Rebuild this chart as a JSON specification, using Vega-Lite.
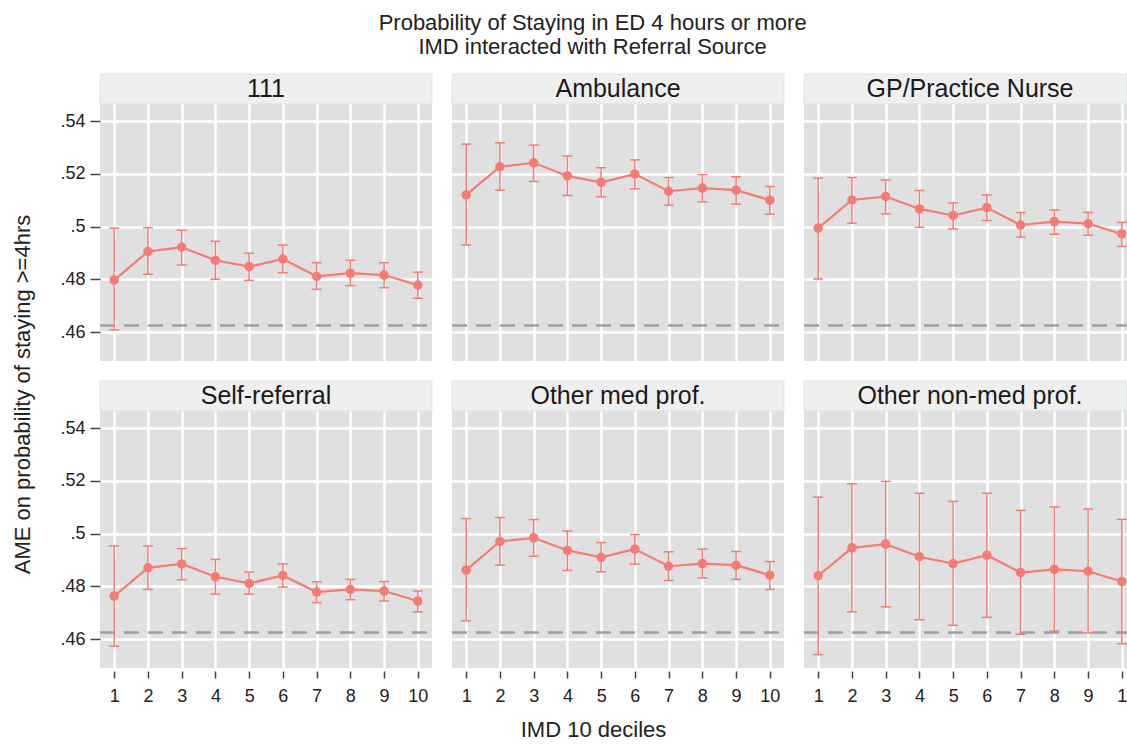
{
  "$schema": "https://vega.github.io/schema/vega-lite/v6.json",
  "padding": {"left": 10, "top": 11, "right": 0, "bottom": 0},
  "title": {
    "text": ["Probability of Staying in ED 4 hours or more", "IMD interacted with Referral Source"],
    "fontSize": 22, "font": "Liberation Sans", "fontWeight": "normal", "lineHeight": 24,
    "anchor": "middle", "frame": "bounds", "dx": 23, "offset": 15, "color": "#222222"
  },
  "config": {
    "view": {"fill": "#e0e0e0", "stroke": null},
    "font": "Liberation Sans",
    "axis": {
      "domain": false, "gridColor": "#ffffff", "gridWidth": 2.5,
      "tickColor": "#444444", "tickWidth": 1.5,
      "labelFontSize": 18, "labelColor": "#222222", "labelFont": "Liberation Sans",
      "titleFont": "Liberation Sans", "titleFontSize": 22, "titleFontWeight": "normal", "titleColor": "#222222"
    },
    "axisX": {"offset": 3, "tickSize": 7, "labelPadding": 9},
    "axisY": {"offset": 0, "tickSize": 10, "labelPadding": 5}
  },
  "datasets": {
    "ame": [
      {"source": "111", "decile": 1, "ame": 0.4797, "lo": 0.4608, "hi": 0.4994},
      {"source": "111", "decile": 2, "ame": 0.4905, "lo": 0.4819, "hi": 0.4996},
      {"source": "111", "decile": 3, "ame": 0.4922, "lo": 0.4854, "hi": 0.4986},
      {"source": "111", "decile": 4, "ame": 0.4872, "lo": 0.4800, "hi": 0.4944},
      {"source": "111", "decile": 5, "ame": 0.4848, "lo": 0.4796, "hi": 0.4899},
      {"source": "111", "decile": 6, "ame": 0.4877, "lo": 0.4825, "hi": 0.4930},
      {"source": "111", "decile": 7, "ame": 0.4811, "lo": 0.4762, "hi": 0.4863},
      {"source": "111", "decile": 8, "ame": 0.4823, "lo": 0.4776, "hi": 0.4872},
      {"source": "111", "decile": 9, "ame": 0.4816, "lo": 0.4768, "hi": 0.4863},
      {"source": "111", "decile": 10, "ame": 0.4778, "lo": 0.4728, "hi": 0.4827},
      {"source": "Ambulance", "decile": 1, "ame": 0.5120, "lo": 0.4930, "hi": 0.5313},
      {"source": "Ambulance", "decile": 2, "ame": 0.5227, "lo": 0.5138, "hi": 0.5318},
      {"source": "Ambulance", "decile": 3, "ame": 0.5242, "lo": 0.5171, "hi": 0.5309},
      {"source": "Ambulance", "decile": 4, "ame": 0.5192, "lo": 0.5118, "hi": 0.5268},
      {"source": "Ambulance", "decile": 5, "ame": 0.5168, "lo": 0.5113, "hi": 0.5223},
      {"source": "Ambulance", "decile": 6, "ame": 0.5199, "lo": 0.5143, "hi": 0.5253},
      {"source": "Ambulance", "decile": 7, "ame": 0.5134, "lo": 0.5081, "hi": 0.5186},
      {"source": "Ambulance", "decile": 8, "ame": 0.5146, "lo": 0.5094, "hi": 0.5197},
      {"source": "Ambulance", "decile": 9, "ame": 0.5138, "lo": 0.5085, "hi": 0.5189},
      {"source": "Ambulance", "decile": 10, "ame": 0.5100, "lo": 0.5047, "hi": 0.5152},
      {"source": "GP/Practice Nurse", "decile": 1, "ame": 0.4994, "lo": 0.4801, "hi": 0.5184},
      {"source": "GP/Practice Nurse", "decile": 2, "ame": 0.5101, "lo": 0.5013, "hi": 0.5186},
      {"source": "GP/Practice Nurse", "decile": 3, "ame": 0.5114, "lo": 0.5048, "hi": 0.5177},
      {"source": "GP/Practice Nurse", "decile": 4, "ame": 0.5067, "lo": 0.4997, "hi": 0.5137},
      {"source": "GP/Practice Nurse", "decile": 5, "ame": 0.5042, "lo": 0.4991, "hi": 0.5090},
      {"source": "GP/Practice Nurse", "decile": 6, "ame": 0.5072, "lo": 0.5023, "hi": 0.5120},
      {"source": "GP/Practice Nurse", "decile": 7, "ame": 0.5006, "lo": 0.4960, "hi": 0.5053},
      {"source": "GP/Practice Nurse", "decile": 8, "ame": 0.5019, "lo": 0.4971, "hi": 0.5063},
      {"source": "GP/Practice Nurse", "decile": 9, "ame": 0.5011, "lo": 0.4967, "hi": 0.5054},
      {"source": "GP/Practice Nurse", "decile": 10, "ame": 0.4972, "lo": 0.4925, "hi": 0.5016},
      {"source": "Self-referral", "decile": 1, "ame": 0.4763, "lo": 0.4573, "hi": 0.4953},
      {"source": "Self-referral", "decile": 2, "ame": 0.4870, "lo": 0.4788, "hi": 0.4953},
      {"source": "Self-referral", "decile": 3, "ame": 0.4885, "lo": 0.4825, "hi": 0.4943},
      {"source": "Self-referral", "decile": 4, "ame": 0.4836, "lo": 0.4770, "hi": 0.4902},
      {"source": "Self-referral", "decile": 5, "ame": 0.4811, "lo": 0.4770, "hi": 0.4854},
      {"source": "Self-referral", "decile": 6, "ame": 0.4841, "lo": 0.4797, "hi": 0.4885},
      {"source": "Self-referral", "decile": 7, "ame": 0.4778, "lo": 0.4738, "hi": 0.4817},
      {"source": "Self-referral", "decile": 8, "ame": 0.4788, "lo": 0.4749, "hi": 0.4826},
      {"source": "Self-referral", "decile": 9, "ame": 0.4782, "lo": 0.4744, "hi": 0.4818},
      {"source": "Self-referral", "decile": 10, "ame": 0.4744, "lo": 0.4703, "hi": 0.4782},
      {"source": "Other med prof.", "decile": 1, "ame": 0.4861, "lo": 0.4669, "hi": 0.5057},
      {"source": "Other med prof.", "decile": 2, "ame": 0.4970, "lo": 0.4880, "hi": 0.5061},
      {"source": "Other med prof.", "decile": 3, "ame": 0.4984, "lo": 0.4914, "hi": 0.5053},
      {"source": "Other med prof.", "decile": 4, "ame": 0.4936, "lo": 0.4860, "hi": 0.5010},
      {"source": "Other med prof.", "decile": 5, "ame": 0.4910, "lo": 0.4855, "hi": 0.4966},
      {"source": "Other med prof.", "decile": 6, "ame": 0.4941, "lo": 0.4884, "hi": 0.4996},
      {"source": "Other med prof.", "decile": 7, "ame": 0.4876, "lo": 0.4822, "hi": 0.4931},
      {"source": "Other med prof.", "decile": 8, "ame": 0.4886, "lo": 0.4832, "hi": 0.4941},
      {"source": "Other med prof.", "decile": 9, "ame": 0.4880, "lo": 0.4826, "hi": 0.4932},
      {"source": "Other med prof.", "decile": 10, "ame": 0.4842, "lo": 0.4788, "hi": 0.4894},
      {"source": "Other non-med prof.", "decile": 1, "ame": 0.4840, "lo": 0.4541, "hi": 0.5138},
      {"source": "Other non-med prof.", "decile": 2, "ame": 0.4946, "lo": 0.4703, "hi": 0.5189},
      {"source": "Other non-med prof.", "decile": 3, "ame": 0.4960, "lo": 0.4722, "hi": 0.5198},
      {"source": "Other non-med prof.", "decile": 4, "ame": 0.4912, "lo": 0.4673, "hi": 0.5153},
      {"source": "Other non-med prof.", "decile": 5, "ame": 0.4886, "lo": 0.4652, "hi": 0.5122},
      {"source": "Other non-med prof.", "decile": 6, "ame": 0.4918, "lo": 0.4682, "hi": 0.5153},
      {"source": "Other non-med prof.", "decile": 7, "ame": 0.4852, "lo": 0.4618, "hi": 0.5088},
      {"source": "Other non-med prof.", "decile": 8, "ame": 0.4864, "lo": 0.4630, "hi": 0.5101},
      {"source": "Other non-med prof.", "decile": 9, "ame": 0.4857, "lo": 0.4623, "hi": 0.5093},
      {"source": "Other non-med prof.", "decile": 10, "ame": 0.4818, "lo": 0.4582, "hi": 0.5054}
    ]
  },
  "data": {"name": "ame"},
  "columns": 3,
  "spacing": 20,
  "bounds": "flush",
  "concat": [
    {
      "width": 332, "height": 287,
      "transform": [{"filter": {"field": "source", "equal": "111"}}],
      "encoding": {
        "x": {"field": "decile", "type": "quantitative", "scale": {"domain": [0.58, 10.42], "nice": false, "zero": false}, "axis": {"values": [1,2,3,4,5,6,7,8,9,10], "labels": false, "ticks": false, "title": null}},
        "y": {"field": "ame", "type": "quantitative", "scale": {"domain": [0.449, 0.55788], "nice": false, "zero": false}, "axis": {"values": [0.46,0.48,0.5,0.52,0.54], "labelExpr": "substring(format(datum.value, '.2~f'), 1)", "title": null}}
      },
      "layer": [
        {"transform": [{"filter": "datum.decile == 1"}], "mark": {"type": "rect", "fill": "#efefef", "stroke": "#dbe5e5", "strokeWidth": 1}, "encoding": {"x": {"datum": 0.58}, "x2": {"datum": 10.42}, "y": {"datum": 0.5465}, "y2": {"datum": 0.55788}}},
        {"transform": [{"filter": "datum.decile == 1"}], "mark": {"type": "rule", "color": "#9e9e9e", "strokeWidth": 2.5, "strokeDash": [15, 9]}, "encoding": {"x": {"datum": 0.58}, "x2": {"datum": 10.42}, "y": {"datum": 0.4625}}},
        {"mark": {"type": "rule", "color": "#f47c74", "strokeWidth": 1.5, "clip": true}, "encoding": {"y": {"field": "lo", "type": "quantitative"}, "y2": {"field": "hi"}}},
        {"mark": {"type": "tick", "orient": "horizontal", "size": 10, "thickness": 1.5, "color": "#f47c74", "opacity": 1, "clip": true}, "encoding": {"y": {"field": "lo", "type": "quantitative"}}},
        {"mark": {"type": "tick", "orient": "horizontal", "size": 10, "thickness": 1.5, "color": "#f47c74", "opacity": 1, "clip": true}, "encoding": {"y": {"field": "hi", "type": "quantitative"}}},
        {"mark": {"type": "line", "color": "#f47c74", "strokeWidth": 2.2}, "encoding": {}},
        {"mark": {"type": "point", "filled": true, "opacity": 1, "size": 90, "color": "#f47c74", "clip": true}, "encoding": {}},
        {"transform": [{"filter": "datum.decile == 1"}], "mark": {"type": "text", "fontSize": 25, "font": "Liberation Sans", "color": "#1a1a1a", "baseline": "middle", "align": "center"}, "encoding": {"x": {"datum": 5.5}, "y": {"datum": 0.55219}, "text": {"value": "111"}}}
      ]
    },
    {
      "width": 332, "height": 287,
      "transform": [{"filter": {"field": "source", "equal": "Ambulance"}}],
      "encoding": {
        "x": {"field": "decile", "type": "quantitative", "scale": {"domain": [0.58, 10.42], "nice": false, "zero": false}, "axis": {"values": [1,2,3,4,5,6,7,8,9,10], "labels": false, "ticks": false, "title": null}},
        "y": {"field": "ame", "type": "quantitative", "scale": {"domain": [0.449, 0.55788], "nice": false, "zero": false}, "axis": {"values": [0.46,0.48,0.5,0.52,0.54], "labels": false, "ticks": false, "title": null}}
      },
      "layer": [
        {"transform": [{"filter": "datum.decile == 1"}], "mark": {"type": "rect", "fill": "#efefef", "stroke": "#dbe5e5", "strokeWidth": 1}, "encoding": {"x": {"datum": 0.58}, "x2": {"datum": 10.42}, "y": {"datum": 0.5465}, "y2": {"datum": 0.55788}}},
        {"transform": [{"filter": "datum.decile == 1"}], "mark": {"type": "rule", "color": "#9e9e9e", "strokeWidth": 2.5, "strokeDash": [15, 9]}, "encoding": {"x": {"datum": 0.58}, "x2": {"datum": 10.42}, "y": {"datum": 0.4625}}},
        {"mark": {"type": "rule", "color": "#f47c74", "strokeWidth": 1.5, "clip": true}, "encoding": {"y": {"field": "lo", "type": "quantitative"}, "y2": {"field": "hi"}}},
        {"mark": {"type": "tick", "orient": "horizontal", "size": 10, "thickness": 1.5, "color": "#f47c74", "opacity": 1, "clip": true}, "encoding": {"y": {"field": "lo", "type": "quantitative"}}},
        {"mark": {"type": "tick", "orient": "horizontal", "size": 10, "thickness": 1.5, "color": "#f47c74", "opacity": 1, "clip": true}, "encoding": {"y": {"field": "hi", "type": "quantitative"}}},
        {"mark": {"type": "line", "color": "#f47c74", "strokeWidth": 2.2}, "encoding": {}},
        {"mark": {"type": "point", "filled": true, "opacity": 1, "size": 90, "color": "#f47c74", "clip": true}, "encoding": {}},
        {"transform": [{"filter": "datum.decile == 1"}], "mark": {"type": "text", "fontSize": 25, "font": "Liberation Sans", "color": "#1a1a1a", "baseline": "middle", "align": "center"}, "encoding": {"x": {"datum": 5.5}, "y": {"datum": 0.55219}, "text": {"value": "Ambulance"}}}
      ]
    },
    {
      "width": 323, "height": 287,
      "transform": [{"filter": {"field": "source", "equal": "GP/Practice Nurse"}}],
      "encoding": {
        "x": {"field": "decile", "type": "quantitative", "scale": {"domain": [0.58, 10.153], "nice": false, "zero": false}, "axis": {"values": [1,2,3,4,5,6,7,8,9,10], "labels": false, "ticks": false, "title": null}},
        "y": {"field": "ame", "type": "quantitative", "scale": {"domain": [0.449, 0.55788], "nice": false, "zero": false}, "axis": {"values": [0.46,0.48,0.5,0.52,0.54], "labels": false, "ticks": false, "title": null}}
      },
      "layer": [
        {"transform": [{"filter": "datum.decile == 1"}], "mark": {"type": "rect", "fill": "#efefef", "stroke": "#dbe5e5", "strokeWidth": 1}, "encoding": {"x": {"datum": 0.58}, "x2": {"datum": 10.153}, "y": {"datum": 0.5465}, "y2": {"datum": 0.55788}}},
        {"transform": [{"filter": "datum.decile == 1"}], "mark": {"type": "rule", "color": "#9e9e9e", "strokeWidth": 2.5, "strokeDash": [15, 9]}, "encoding": {"x": {"datum": 0.58}, "x2": {"datum": 10.153}, "y": {"datum": 0.4625}}},
        {"mark": {"type": "rule", "color": "#f47c74", "strokeWidth": 1.5, "clip": true}, "encoding": {"y": {"field": "lo", "type": "quantitative"}, "y2": {"field": "hi"}}},
        {"mark": {"type": "tick", "orient": "horizontal", "size": 10, "thickness": 1.5, "color": "#f47c74", "opacity": 1, "clip": true}, "encoding": {"y": {"field": "lo", "type": "quantitative"}}},
        {"mark": {"type": "tick", "orient": "horizontal", "size": 10, "thickness": 1.5, "color": "#f47c74", "opacity": 1, "clip": true}, "encoding": {"y": {"field": "hi", "type": "quantitative"}}},
        {"mark": {"type": "line", "color": "#f47c74", "strokeWidth": 2.2, "clip": true}, "encoding": {}},
        {"mark": {"type": "point", "filled": true, "opacity": 1, "size": 90, "color": "#f47c74", "clip": true}, "encoding": {}},
        {"transform": [{"filter": "datum.decile == 1"}], "mark": {"type": "text", "fontSize": 25, "font": "Liberation Sans", "color": "#1a1a1a", "baseline": "middle", "align": "center"}, "encoding": {"x": {"datum": 5.5}, "y": {"datum": 0.55219}, "text": {"value": "GP/Practice Nurse"}}}
      ]
    },
    {
      "width": 332, "height": 287,
      "transform": [{"filter": {"field": "source", "equal": "Self-referral"}}],
      "encoding": {
        "x": {"field": "decile", "type": "quantitative", "scale": {"domain": [0.58, 10.42], "nice": false, "zero": false}, "axis": {"values": [1,2,3,4,5,6,7,8,9,10], "title": null}},
        "y": {"field": "ame", "type": "quantitative", "scale": {"domain": [0.449, 0.55788], "nice": false, "zero": false}, "axis": {"values": [0.46,0.48,0.5,0.52,0.54], "labelExpr": "substring(format(datum.value, '.2~f'), 1)", "title": "AME on probability of staying >=4hrs", "titleX": -66, "titleY": 13}}
      },
      "layer": [
        {"transform": [{"filter": "datum.decile == 1"}], "mark": {"type": "rect", "fill": "#efefef", "stroke": "#dbe5e5", "strokeWidth": 1}, "encoding": {"x": {"datum": 0.58}, "x2": {"datum": 10.42}, "y": {"datum": 0.5465}, "y2": {"datum": 0.55788}}},
        {"transform": [{"filter": "datum.decile == 1"}], "mark": {"type": "rule", "color": "#9e9e9e", "strokeWidth": 2.5, "strokeDash": [15, 9]}, "encoding": {"x": {"datum": 0.58}, "x2": {"datum": 10.42}, "y": {"datum": 0.4625}}},
        {"mark": {"type": "rule", "color": "#f47c74", "strokeWidth": 1.5, "clip": true}, "encoding": {"y": {"field": "lo", "type": "quantitative"}, "y2": {"field": "hi"}}},
        {"mark": {"type": "tick", "orient": "horizontal", "size": 10, "thickness": 1.5, "color": "#f47c74", "opacity": 1, "clip": true}, "encoding": {"y": {"field": "lo", "type": "quantitative"}}},
        {"mark": {"type": "tick", "orient": "horizontal", "size": 10, "thickness": 1.5, "color": "#f47c74", "opacity": 1, "clip": true}, "encoding": {"y": {"field": "hi", "type": "quantitative"}}},
        {"mark": {"type": "line", "color": "#f47c74", "strokeWidth": 2.2}, "encoding": {}},
        {"mark": {"type": "point", "filled": true, "opacity": 1, "size": 90, "color": "#f47c74", "clip": true}, "encoding": {}},
        {"transform": [{"filter": "datum.decile == 1"}], "mark": {"type": "text", "fontSize": 25, "font": "Liberation Sans", "color": "#1a1a1a", "baseline": "middle", "align": "center"}, "encoding": {"x": {"datum": 5.5}, "y": {"datum": 0.55219}, "text": {"value": "Self-referral"}}}
      ]
    },
    {
      "width": 332, "height": 287,
      "transform": [{"filter": {"field": "source", "equal": "Other med prof."}}],
      "encoding": {
        "x": {"field": "decile", "type": "quantitative", "scale": {"domain": [0.58, 10.42], "nice": false, "zero": false}, "axis": {"values": [1,2,3,4,5,6,7,8,9,10], "title": "IMD 10 deciles", "titleX": 141, "titleY": 48}},
        "y": {"field": "ame", "type": "quantitative", "scale": {"domain": [0.449, 0.55788], "nice": false, "zero": false}, "axis": {"values": [0.46,0.48,0.5,0.52,0.54], "labels": false, "ticks": false, "title": null}}
      },
      "layer": [
        {"transform": [{"filter": "datum.decile == 1"}], "mark": {"type": "rect", "fill": "#efefef", "stroke": "#dbe5e5", "strokeWidth": 1}, "encoding": {"x": {"datum": 0.58}, "x2": {"datum": 10.42}, "y": {"datum": 0.5465}, "y2": {"datum": 0.55788}}},
        {"transform": [{"filter": "datum.decile == 1"}], "mark": {"type": "rule", "color": "#9e9e9e", "strokeWidth": 2.5, "strokeDash": [15, 9]}, "encoding": {"x": {"datum": 0.58}, "x2": {"datum": 10.42}, "y": {"datum": 0.4625}}},
        {"mark": {"type": "rule", "color": "#f47c74", "strokeWidth": 1.5, "clip": true}, "encoding": {"y": {"field": "lo", "type": "quantitative"}, "y2": {"field": "hi"}}},
        {"mark": {"type": "tick", "orient": "horizontal", "size": 10, "thickness": 1.5, "color": "#f47c74", "opacity": 1, "clip": true}, "encoding": {"y": {"field": "lo", "type": "quantitative"}}},
        {"mark": {"type": "tick", "orient": "horizontal", "size": 10, "thickness": 1.5, "color": "#f47c74", "opacity": 1, "clip": true}, "encoding": {"y": {"field": "hi", "type": "quantitative"}}},
        {"mark": {"type": "line", "color": "#f47c74", "strokeWidth": 2.2}, "encoding": {}},
        {"mark": {"type": "point", "filled": true, "opacity": 1, "size": 90, "color": "#f47c74", "clip": true}, "encoding": {}},
        {"transform": [{"filter": "datum.decile == 1"}], "mark": {"type": "text", "fontSize": 25, "font": "Liberation Sans", "color": "#1a1a1a", "baseline": "middle", "align": "center"}, "encoding": {"x": {"datum": 5.5}, "y": {"datum": 0.55219}, "text": {"value": "Other med prof."}}}
      ]
    },
    {
      "width": 323, "height": 287,
      "transform": [{"filter": {"field": "source", "equal": "Other non-med prof."}}],
      "encoding": {
        "x": {"field": "decile", "type": "quantitative", "scale": {"domain": [0.58, 10.153], "nice": false, "zero": false}, "axis": {"values": [1,2,3,4,5,6,7,8,9,10], "title": null, "labelExpr": "datum.value == 10 ? '1' : datum.label"}},
        "y": {"field": "ame", "type": "quantitative", "scale": {"domain": [0.449, 0.55788], "nice": false, "zero": false}, "axis": {"values": [0.46,0.48,0.5,0.52,0.54], "labels": false, "ticks": false, "title": null}}
      },
      "layer": [
        {"transform": [{"filter": "datum.decile == 1"}], "mark": {"type": "rect", "fill": "#efefef", "stroke": "#dbe5e5", "strokeWidth": 1}, "encoding": {"x": {"datum": 0.58}, "x2": {"datum": 10.153}, "y": {"datum": 0.5465}, "y2": {"datum": 0.55788}}},
        {"transform": [{"filter": "datum.decile == 1"}], "mark": {"type": "rule", "color": "#9e9e9e", "strokeWidth": 2.5, "strokeDash": [15, 9]}, "encoding": {"x": {"datum": 0.58}, "x2": {"datum": 10.153}, "y": {"datum": 0.4625}}},
        {"mark": {"type": "rule", "color": "#f47c74", "strokeWidth": 1.5, "clip": true}, "encoding": {"y": {"field": "lo", "type": "quantitative"}, "y2": {"field": "hi"}}},
        {"mark": {"type": "tick", "orient": "horizontal", "size": 10, "thickness": 1.5, "color": "#f47c74", "opacity": 1, "clip": true}, "encoding": {"y": {"field": "lo", "type": "quantitative"}}},
        {"mark": {"type": "tick", "orient": "horizontal", "size": 10, "thickness": 1.5, "color": "#f47c74", "opacity": 1, "clip": true}, "encoding": {"y": {"field": "hi", "type": "quantitative"}}},
        {"mark": {"type": "line", "color": "#f47c74", "strokeWidth": 2.2, "clip": true}, "encoding": {}},
        {"mark": {"type": "point", "filled": true, "opacity": 1, "size": 90, "color": "#f47c74", "clip": true}, "encoding": {}},
        {"transform": [{"filter": "datum.decile == 1"}], "mark": {"type": "text", "fontSize": 25, "font": "Liberation Sans", "color": "#1a1a1a", "baseline": "middle", "align": "center"}, "encoding": {"x": {"datum": 5.5}, "y": {"datum": 0.55219}, "text": {"value": "Other non-med prof."}}}
      ]
    }
  ]
}
